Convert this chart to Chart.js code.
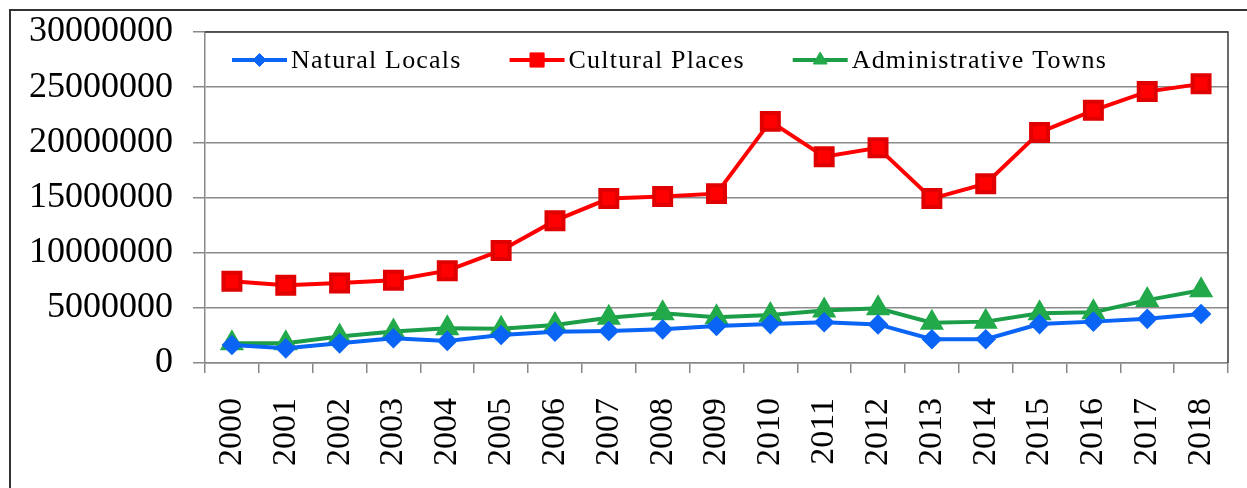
<!DOCTYPE html>
<html>
<head>
<meta charset="utf-8">
<script src="https://cdn.jsdelivr.net/npm/chart.js@4/dist/chart.umd.min.js"></script>
<style>
  html, body { margin: 0; padding: 0; background: #fff; overflow: hidden; }
  #wrap { position: relative; width: 1247px; height: 488px; }
</style>
</head>
<body>
<div id="wrap"><canvas id="c" width="1247" height="488"></canvas></div>
<script>
const years = ['2000','2001','2002','2003','2004','2005','2006','2007','2008','2009','2010','2011','2012','2013','2014','2015','2016','2017','2018'];
const naturalLocals = [1630000,1330000,1780000,2240000,2000000,2540000,2840000,2900000,3050000,3350000,3530000,3690000,3500000,2150000,2150000,3530000,3750000,4000000,4440000];
const culturalPlaces = [7400000,7050000,7250000,7500000,8370000,10200000,12900000,14900000,15100000,15350000,21900000,18700000,19500000,14900000,16250000,20900000,22900000,24600000,25300000];
const administrativeTowns = [1800000,1800000,2400000,2850000,3150000,3100000,3450000,4100000,4500000,4150000,4350000,4750000,4960000,3650000,3750000,4500000,4600000,5700000,6600000];
const yTickValues = [0,5000000,10000000,15000000,20000000,25000000,30000000];
const seriesNames = ['Natural Locals','Cultural Places','Administrative Towns'];

const BLUE = '#0a64f5', RED = '#ff0000', GREEN = '#1c9e48', GREEN_PT = '#22aa4a';

const frame = {
  id: 'frame',
  beforeDraw(chart) {
    const ctx = chart.ctx;
    ctx.save();
    ctx.strokeStyle = '#333';
    ctx.lineWidth = 2;
    ctx.strokeRect(10, 10, 1400, 700);
    ctx.restore();
  },
  afterDatasetsDraw(chart) {
    const {ctx, chartArea: a} = chart;
    ctx.save();
    ctx.strokeStyle = '#3a3a3a';
    ctx.lineWidth = 1.5;
    ctx.beginPath();
    ctx.moveTo(a.left, a.top);
    ctx.lineTo(a.right, a.top);
    ctx.lineTo(a.right, a.bottom);
    ctx.stroke();
    // legend inside plot area
    const y = a.top + 28;
    let x = a.left + 27;
    ctx.font = '26px "Liberation Serif"';
    ctx.letterSpacing = '1.2px';
    ctx.textBaseline = 'middle';
    chart.data.datasets.forEach((ds) => {
      ctx.strokeStyle = ds.borderColor;
      ctx.lineWidth = 4;
      ctx.beginPath();
      ctx.moveTo(x, y);
      ctx.lineTo(x + 55, y);
      ctx.stroke();
      ctx.fillStyle = ds.pointBackgroundColor;
      ctx.strokeStyle = ds.pointBackgroundColor;
      ctx.lineWidth = 1;
      Chart.helpers.drawPoint(ctx, {
        pointStyle: ds.pointStyle,
        radius: ds.legendRadius,
        borderWidth: 1
      }, x + 27.5, y);
      ctx.fillStyle = '#000';
      ctx.fillText(ds.label, x + 59, y + 1);
      x += 59 + ctx.measureText(ds.label).width + 48;
    });
    ctx.restore();
  }
};

new Chart(document.getElementById('c'), {
  type: 'line',
  data: {
    labels: years,
    datasets: [
      { label: seriesNames[0], data: naturalLocals, borderColor: BLUE, backgroundColor: BLUE,
        pointBackgroundColor: BLUE, pointBorderColor: BLUE, pointStyle: 'rectRot', pointRadius: 7.5, legendRadius: 6.5,
        borderWidth: 4, tension: 0 },
      { label: seriesNames[1], data: culturalPlaces, borderColor: RED, backgroundColor: RED,
        pointBackgroundColor: RED, pointBorderColor: '#e00000', pointStyle: 'rect', pointRadius: 12, legendRadius: 10,
        borderWidth: 4, tension: 0 },
      { label: seriesNames[2], data: administrativeTowns, borderColor: GREEN, backgroundColor: GREEN_PT,
        pointBackgroundColor: GREEN_PT, pointBorderColor: GREEN_PT, pointStyle: 'triangle', pointRadius: 10, legendRadius: 8,
        borderWidth: 4, tension: 0 }
    ]
  },
  options: {
    responsive: false,
    animation: false,
    layout: { padding: { left: 0, top: 32, right: 19, bottom: 0 } },
    plugins: { legend: { display: false }, tooltip: { enabled: false } },
    scales: {
      x: {
        offset: true,
        grid: { offset: true, drawOnChartArea: false, color: '#888', lineWidth: 1.5, tickLength: 10, tickColor: '#888' },
        border: { color: '#888', width: 1.5 },
        ticks: { minRotation: 90, maxRotation: 90, padding: 25, color: '#000',
                 font: { family: '"Liberation Serif"', size: 34 } },
        afterFit(s) { s.height = 125; s.paddingLeft = 0; s.paddingRight = 0; }
      },
      y: {
        min: 0, max: 30000000,
        afterBuildTicks(s) { s.ticks = yTickValues.map(v => ({ value: v })); },
        grid: { color: '#8a8a8a', lineWidth: 1.5, tickLength: 12, tickColor: '#888' },
        border: { color: '#888', width: 1.5 },
        ticks: { padding: 20, color: '#000', font: { family: '"Liberation Serif"', size: 36 },
                 callback: v => String(v) },
        afterFit(s) { s.width = 205; s.paddingTop = 0; s.paddingBottom = 0; }
      }
    }
  },
  plugins: [frame]
});
</script>
</body>
</html>
